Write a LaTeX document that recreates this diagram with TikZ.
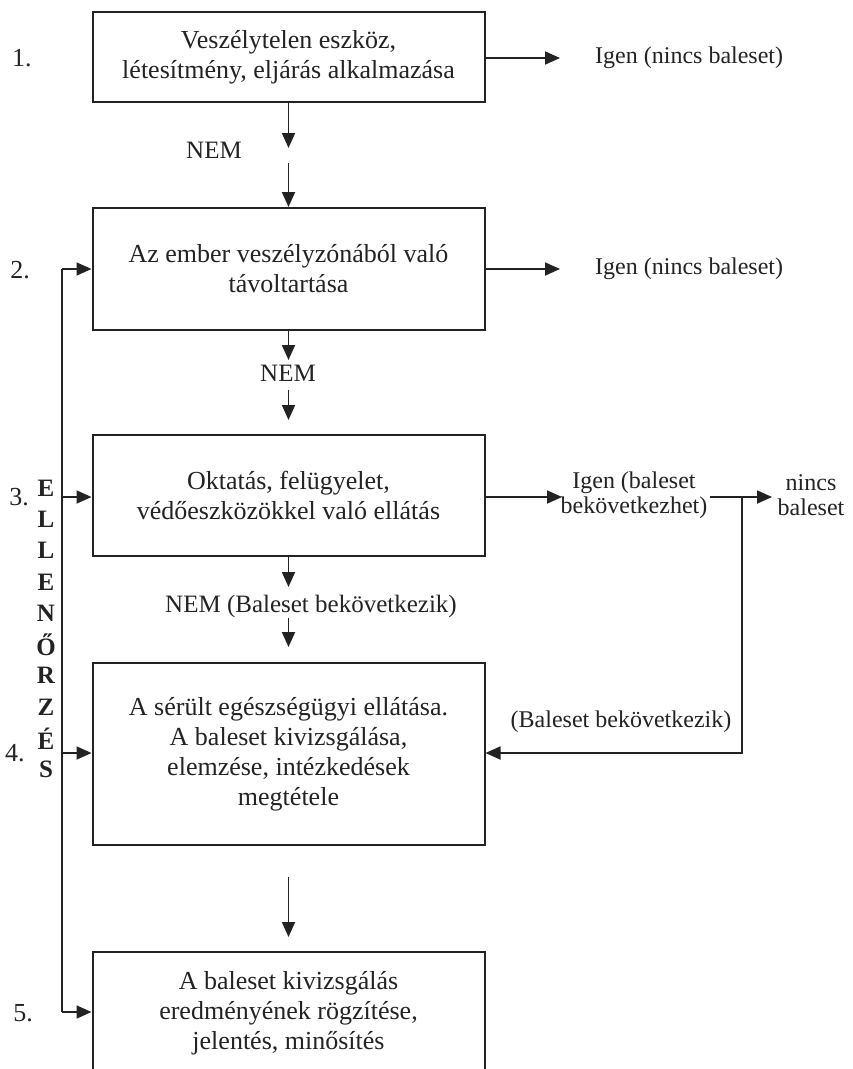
\documentclass[tikz,border=0pt]{standalone}
\usepackage{fontspec}
\setmainfont{Liberation Serif}
\usetikzlibrary{arrows.meta}
\definecolor{ink}{RGB}{35,35,35}
\begin{document}
\begin{tikzpicture}[x=1pt,y=-1pt,
  box/.style={draw=ink,line width=2pt,minimum width=392pt,inner sep=0pt,align=center,text=ink,font=\fontsize{26}{30}\selectfont},
  arr/.style={draw=ink,line width=1.8pt,-{Triangle[length=15pt,width=13pt]}},
  ln/.style={draw=ink,line width=1.8pt},
  lbl/.style={font=\fontsize{24}{25}\selectfont,inner sep=0pt,text=ink,align=center},
  nem/.style={font=\fontsize{25}{26}\selectfont,inner sep=0pt,text=ink},
  num/.style={font=\fontsize{26}{27}\selectfont,inner sep=0pt,text=ink},
  vlet/.style={font=\fontsize{25}{26}\selectfont\bfseries,inner sep=0pt,text=ink}
]
\fill[white] (0,0) rectangle (852,1069);
\useasboundingbox (0,0) rectangle (852,1069);

% boxes
\node[box,minimum height=90pt] (b1) at (288.5,57) {Veszélytelen eszköz,\\létesítmény, eljárás alkalmazása};
\node[box,minimum height=122pt] (b2) at (288.5,269) {Az ember veszélyzónából való\\távoltartása};
\node[box,minimum height=121pt] (b3) at (288.5,495.5) {Oktatás, felügyelet,\\védőeszközökkel való ellátás};
\node[box,minimum height=182pt] (b4) at (288.5,754) {A sérült egészségügyi ellátása.\\A baleset kivizsgálása,\\elemzése, intézkedések\\megtétele};
\node[box,minimum height=123pt] (b5) at (288.5,1013.5) {A baleset kivizsgálás\\eredményének rögzítése,\\jelentés, minősítés};

% numbers
\node[num] (n1) at (22,58) {1.};
\node[num] (n2) at (20,270) {2.};
\node[num] (n3) at (19,497) {3.};
\node[num] (n4) at (15,753) {4.};
\node[num] (n5) at (23,1013) {5.};

% ELLENŐRZÉS
\foreach \l [count=\i] in {E,L,L,E,N,Ő,R,Z,É,S}
  \node[vlet] (v\i) at (46,{488+31.3*(\i-1)}) {\l};

% right labels
\node[lbl,anchor=west] (y1) at (595,58) {Igen (nincs baleset)};
\node[lbl,anchor=west] (y2) at (595,269) {Igen (nincs baleset)};
\node[lbl] (ig3) at (634,495) {Igen (baleset\\bekövetkezhet)};
\node[lbl] (nb3) at (811,495) {nincs\\baleset};
\node[lbl] (bk4) at (621,722) {(Baleset bekövetkezik)};

% NEM labels
\node[nem] (nem1) at (214,150) {NEM};
\node[nem] (nem2) at (288,373) {NEM};
\node[nem,anchor=west] (nem3) at (165,606) {NEM (Baleset bekövetkezik)};

% coordinates
\coordinate (d1e) at (288.5,148);
\coordinate (d1s) at (288.5,163);
\coordinate (d2e) at (288.5,360);
\coordinate (d2s) at (288.5,390);
\coordinate (d2t) at (288.5,420);
\coordinate (d3e) at (288.5,587);
\coordinate (d3s) at (288.5,618);
\coordinate (d3t) at (288.5,647);
\coordinate (d4s) at (288.5,877);
\coordinate (d4t) at (288.5,937);
\coordinate (L2) at (62,269);
\coordinate (L3) at (62,497);
\coordinate (L4) at (62,753);
\coordinate (L5) at (62,1012);
\coordinate (jn) at (742,497);
\coordinate (r1) at (560,58);
\coordinate (r2) at (560,269);
\coordinate (r3) at (562,497);
\coordinate (r3b) at (710,497);
\coordinate (r3c) at (772,497);

% vertical flow
\draw[arr] (b1.south) -- (d1e);
\draw[arr] (d1s) -- (b2.north);
\draw[arr] (b2.south) -- (d2e);
\draw[arr] (d2s) -- (d2t);
\draw[arr] (b3.south) -- (d3e);
\draw[arr] (d3s) -- (d3t);
\draw[arr] (d4s) -- (d4t);

% right side
\draw[arr] (r1 -| b1.east) -- (r1);
\draw[arr] (r2 -| b2.east) -- (r2);
\draw[arr] (r3 -| b3.east) -- (r3);
\draw[arr] (r3b) -- (r3c);
\draw[arr] (jn) |- (L4 -| b4.east);

% left bus
\draw[ln] (L2) -- (L5);
\draw[arr] (L2) -- (L2 -| b2.west);
\draw[arr] (L3) -- (L3 -| b3.west);
\draw[arr] (L4) -- (L4 -| b4.west);
\draw[arr] (L5) -- (L5 -| b5.west);
\end{tikzpicture}
\end{document}
